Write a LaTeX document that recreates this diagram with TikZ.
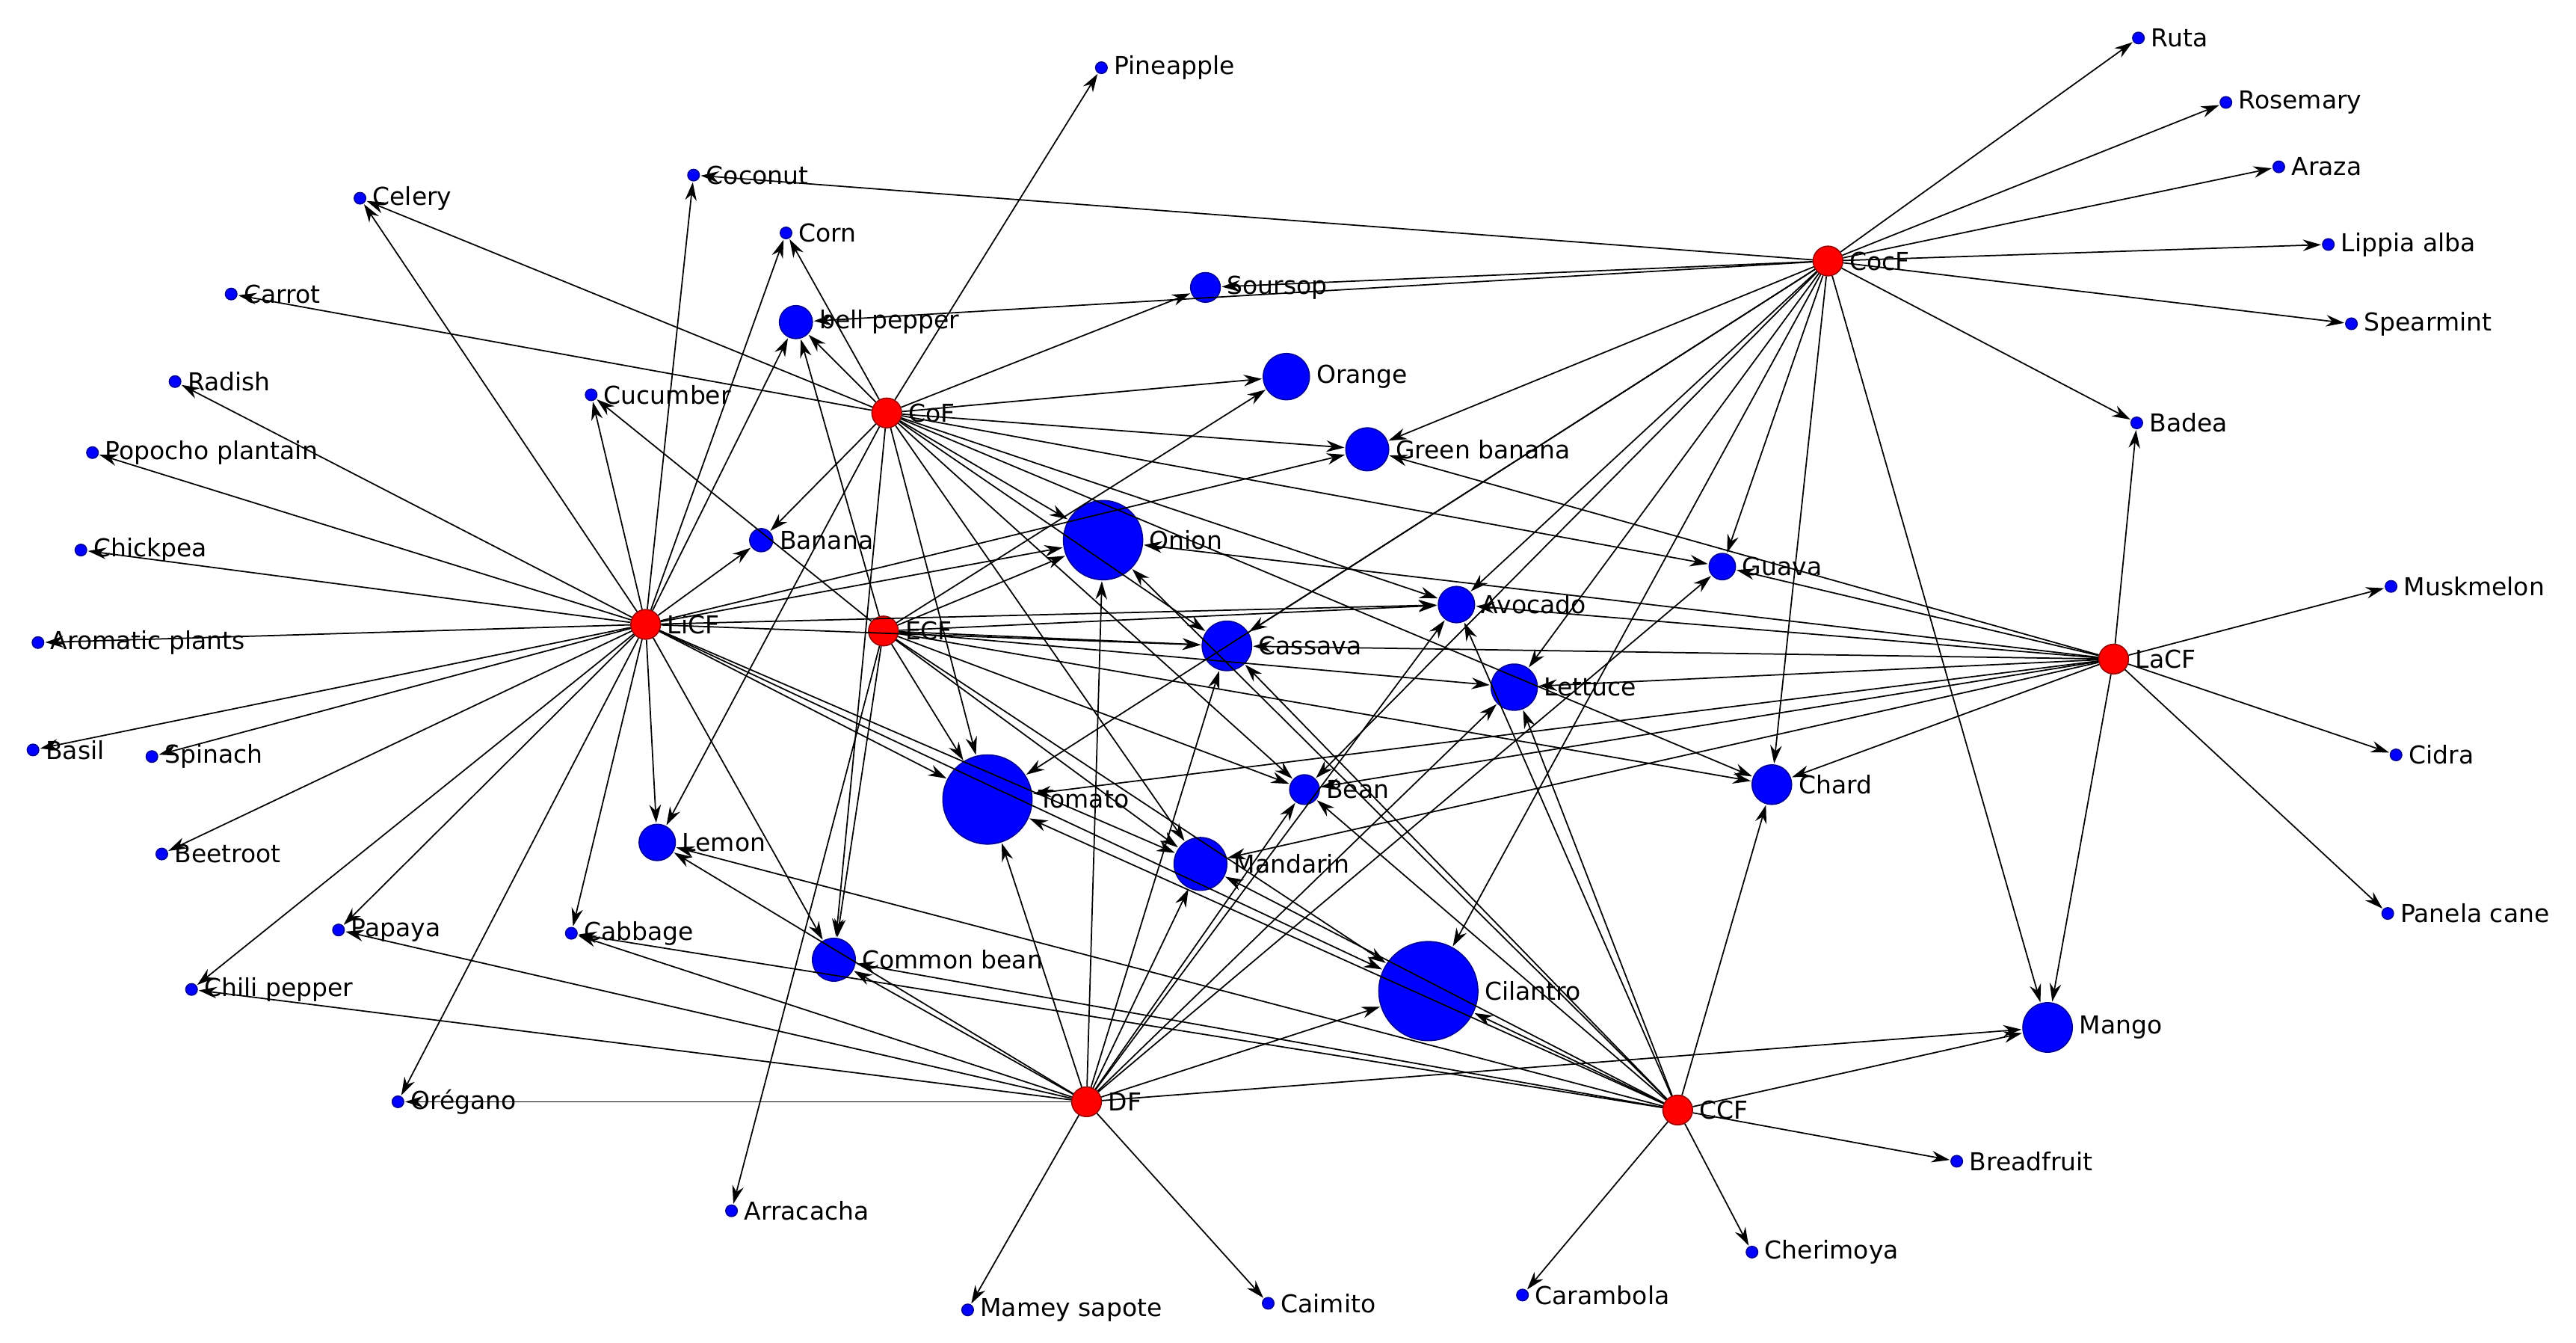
\documentclass[tikz,border=0pt]{standalone}
\usepackage{fontspec}
\setmainfont{DejaVu Sans}
\usetikzlibrary{arrows.meta}
\definecolor{hubred}{RGB}{255, 0, 0}
\definecolor{cropblue}{RGB}{0, 0, 255}
\tikzset{
  crop/.style={circle, fill=cropblue, draw=cropblue!60!black, inner sep=0pt},
  hub/.style={circle, fill=hubred, draw=hubred!60!black, inner sep=0pt, minimum size=3.6mm},
  lbl/.style={font=\fontsize{8.5}{9}\selectfont, inner sep=1pt, label distance=1pt},
  edge/.style={-{Stealth[length=2.2mm,width=1.4mm]}, line width=0.45pt, shorten >=0.3pt}
}
\begin{document}
\begin{tikzpicture}[x=0.2mm, y=-0.2mm]
    \useasboundingbox (0,0) rectangle (1560,813);
    % farm types
    \foreach \id/\x/\y/\t in {cocf/1107/158/CocF, cof/537/250/CoF, licf/391/378/LiCF,
        ecf/535/382/ECF, lacf/1280/399/LaCF, df/658/667/DF, ccf/1016/672/CCF}
        \node[hub, label={[lbl]right:\t}] (\id) at (\x,\y) {};
    % crops (size by degree)
    \foreach \id/\x/\y/\r/\t in {onion/668/327/24/Onion, tomato/598/484/27/Tomato,
        cilantro/865/600/30/Cilantro, cassava/743/391/15/Cassava, avocado/882/366/11/Avocado,
        lettuce/917/416/14/Lettuce, gbanana/828/272/13/Green banana, orange/779/228/14/Orange,
        mandarin/727/523/16/Mandarin, cbean/505/581/13/Common bean, lemon/398/510/11/Lemon,
        chard/1073/475/12/Chard, mango/1240/622/15/Mango, soursop/730/174/9/Soursop,
        bpepper/482/195/10/bell pepper, banana/461/327/7/Banana, bean/790/478/9/Bean,
        guava/1043/343/8/Guava,
        pineapple/667/41/3.5/Pineapple, coconut/420/106/3.5/Coconut, celery/218/120/3.5/Celery,
        corn/476/141/3.5/Corn, carrot/140/178/3.5/Carrot, radish/106/231/3.5/Radish,
        cucumber/358/239/3.5/Cucumber, popocho/56/274/3.5/Popocho plantain,
        chickpea/49/333/3.5/Chickpea, aromatic/23/389/3.5/Aromatic plants, basil/20/454/3.5/Basil,
        spinach/92/458/3.5/Spinach, beetroot/98/517/3.5/Beetroot, papaya/205/563/3.5/Papaya,
        cabbage/346/565/3.5/Cabbage, chili/116/599/3.5/Chili pepper, oregano/241/667/3.5/Orégano,
        arracacha/443/733/3.5/Arracacha, mamey/586/793/3.5/Mamey sapote, caimito/768/789/3.5/Caimito,
        carambola/922/784/3.5/Carambola, cherimoya/1061/758/3.5/Cherimoya,
        breadfruit/1185/703/3.5/Breadfruit, panela/1446/553/3.5/Panela cane, cidra/1451/457/3.5/Cidra,
        muskmelon/1448/355/3.5/Muskmelon, badea/1294/256/3.5/Badea, spearmint/1424/196/3.5/Spearmint,
        lippia/1410/148/3.5/Lippia alba, araza/1380/101/3.5/Araza, rosemary/1348/62/3.5/Rosemary,
        ruta/1295/23/3.5/Ruta}
        \node[crop, minimum size=\r*0.4mm, label={[lbl]right:\t}] (\id) at (\x,\y) {};
    % links farm -> crop
    \foreach \h/\l in {
        cocf/{ruta,rosemary,araza,lippia,spearmint,badea,mango,chard,guava,lettuce,avocado,gbanana,soursop,coconut,bpepper,cassava,bean,tomato,cilantro},
        cof/{pineapple,celery,corn,carrot,bpepper,soursop,orange,gbanana,onion,guava,avocado,cassava,tomato,mandarin,lemon,cbean,bean,chard,banana},
        licf/{coconut,corn,cucumber,celery,radish,popocho,chickpea,aromatic,basil,spinach,beetroot,chili,papaya,oregano,cabbage,lemon,banana,onion,avocado,cassava,tomato,mandarin,cilantro,cbean,gbanana,bpepper},
        ecf/{cucumber,bpepper,onion,orange,avocado,cassava,tomato,cbean,arracacha,lettuce,bean,cilantro,mandarin,chard},
        lacf/{badea,muskmelon,cidra,panela,mango,chard,guava,lettuce,gbanana,avocado,tomato,bean,mandarin,cassava,onion},
        df/{caimito,mamey,oregano,papaya,chili,cabbage,cbean,tomato,onion,mandarin,cassava,bean,avocado,lettuce,guava,cilantro,mango,lemon},
        ccf/{carambola,cherimoya,breadfruit,mango,chard,cilantro,lettuce,avocado,cassava,mandarin,tomato,cbean,cabbage,lemon,onion,bean}}
        \foreach \c in \l
            \draw[edge] (\h) -- (\c);
\end{tikzpicture}
\end{document}
